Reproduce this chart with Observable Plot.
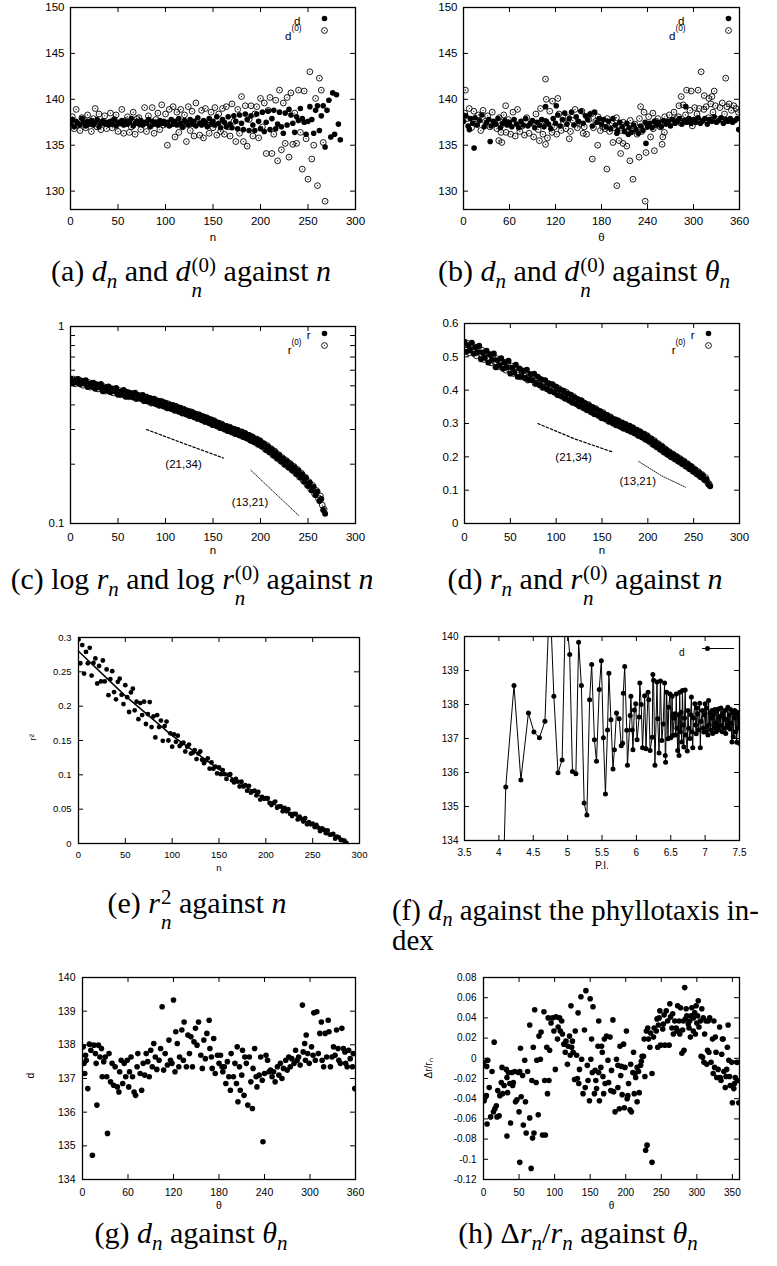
<!DOCTYPE html>
<html><head><meta charset="utf-8">
<script src="https://cdn.jsdelivr.net/npm/d3@7"></script>
<script src="https://cdn.jsdelivr.net/npm/@observablehq/plot@0.6"></script>
<style>
html,body{margin:0;padding:0;background:#fff;}
#fig{position:relative;width:777px;height:1266px;overflow:hidden;background:#fff;}
.pnl{position:absolute;}
.cap{position:absolute;font-family:"Liberation Serif","Times New Roman",serif;font-size:25px;color:#000;white-space:nowrap;line-height:1.2;}
.cap i{font-style:italic;}
.ss{display:inline-flex;flex-direction:column;font-size:0.7em;line-height:1.2;vertical-align:0.42em;margin-left:1px;}
.ss span{display:block;line-height:1.2;}
.sb{font-size:0.7em;position:relative;top:0.32em;line-height:1;}
.keyline{position:absolute;height:0;border-top:1px solid #000;}
</style></head><body><div id="fig"></div>
<script>
// ================= DATA =================
// (a) d_n (filled) and d_n^(0) (open) against n ; n = index*2
const aStep = 2;
const aD = [137.3,137.8,137.0,137.6,137.4,137.2,137.9,137.5,137.1,137.6,137.3,137.7,137.2,137.5,137.8,137.0,137.4,137.6,137.3,137.5,137.2,
137.6,137.3,137.8,137.1,137.5,137.4,137.7,137.2,137.6,137.3,137.5,137.9,137.1,137.4,137.6,137.3,137.7,137.2,137.5,137.4,137.8,137.0,137.6,137.3,137.5,137.2,137.7,137.4,137.6,137.3,
137.5,137.1,137.8,137.3,137.6,137.2,137.9,137.4,137.0,137.7,137.5,137.2,137.8,137.3,137.6,137.1,138.0,137.4,137.2,137.7,137.5,137.0,137.9,137.3,137.6,137.2,138.1,137.4,136.9,137.8,
137.5,137.0,138.1,137.3,136.9,138.2,137.6,136.8,138.3,137.4,136.7,138.4,137.8,136.6,138.2,137.2,136.6,138.4,137.6,136.8,
138.6,136.5,137.5,138.7,136.7,137.9,138.8,136.8,137.3,138.6,137.0,136.3,138.5,137.2,138.9,138.3,137.4,136.4,138.1,137.7,139.0,137.9,137.5,136.2,137.6,139.2,137.8,136.3,138.8,139.3,
136.6,138.2,139.3,134.8,138.8,139.9,135.9,140.7,136.2,140.5,137.3,135.6];
const aD0 = [137.4,138.1,136.8,138.9,137.2,136.6,138.0,137.7,136.9,138.3,137.5,136.5,137.9,139.0,137.0,138.4,136.7,137.6,138.2,136.8,137.3,
138.5,136.9,137.8,138.3,136.5,137.4,138.9,136.3,137.7,138.1,136.4,137.0,138.6,136.2,137.9,138.0,136.7,137.3,139.1,136.5,138.2,137.1,139.1,136.3,137.8,138.5,136.7,139.4,137.2,138.4,
135.0,138.9,137.3,139.2,135.9,138.6,136.4,138.9,137.0,138.3,135.4,139.2,136.6,138.7,136.0,139.6,137.5,136.1,138.8,135.8,139.0,137.2,136.3,138.6,136.9,139.1,136.1,138.4,136.5,139.0,
136.2,139.2,137.0,136.0,139.5,137.6,135.4,138.9,136.3,140.3,135.4,139.3,134.9,137.8,139.3,136.0,138.4,139.2,135.8,140.1,
137.0,139.6,134.1,138.8,140.2,134.1,136.2,139.9,133.3,141.0,134.5,139.6,135.2,140.2,133.7,140.7,135.1,138.5,135.2,141.0,136.4,132.4,140.9,135.7,131.3,143.0,133.5,135.0,140.1,130.6,142.3,141.0,135.3,128.9];

// (b) d_n and d_n^(0) against theta_n ; band sampled every 3 degrees
const bStep = 3;
const bD = [137.6,138.2,137.1,137.9,137.4,138.0,137.2,137.7,138.3,137.0,137.5,137.8,137.1,137.6,137.3,137.9,136.9,137.4,137.7,137.2,
137.5,137.0,137.8,137.3,136.9,137.6,137.2,137.9,137.1,137.4,137.7,136.9,137.5,137.2,137.8,137.0,137.6,137.3,136.8,137.9,
137.4,138.3,137.1,137.8,138.5,137.3,137.9,138.6,137.2,138.1,137.6,138.7,137.4,138.2,137.8,138.4,137.1,138.6,137.5,137.9,
137.3,137.8,137.0,137.6,136.8,137.9,137.2,136.6,137.5,137.0,136.5,137.4,136.9,136.4,137.2,136.7,136.3,137.1,136.6,137.5,
137.0,137.4,136.9,137.6,137.2,137.5,137.0,137.7,137.3,137.6,137.1,137.8,137.4,137.6,137.9,137.3,137.7,137.5,137.9,137.4,
137.8,137.5,138.0,137.4,137.7,137.9,137.3,137.8,137.6,138.1,137.5,137.7,138.0,137.4,137.8,137.6,137.9,137.5,137.7,137.9];
const bD0 = [138.5,137.9,139.0,136.9,138.7,137.3,138.3,136.6,138.8,137.6,138.2,137.0,138.6,137.4,136.8,138.0,137.2,138.3,136.4,137.8,
136.2,138.6,136.0,138.9,136.5,137.1,136.1,138.0,136.3,137.4,135.9,138.4,136.7,139.0,136.2,137.6,135.8,138.7,136.4,137.0,
136.2,138.4,136.6,137.5,136.8,138.0,136.5,137.7,138.9,136.9,137.3,138.7,137.0,136.2,137.8,138.4,136.9,137.6,138.1,136.6,
137.0,136.8,137.9,136.5,137.4,136.9,138.0,137.2,136.6,137.5,137.1,136.4,137.7,136.8,137.3,136.2,137.9,136.5,138.6,137.0,
138.1,137.2,136.8,137.6,137.9,137.0,137.4,138.1,137.5,138.3,137.7,138.6,137.9,138.1,137.4,139.4,138.3,137.6,138.8,137.1,
139.1,138.4,139.0,137.6,138.9,139.2,138.0,139.5,138.6,139.3,137.8,139.1,139.6,138.4,139.2,139.5,138.8,139.3,139.0,138.6];
const bDExtra = [[7.6,136.7],[13.8,134.7],[34.8,135.4],[107,139.2],[121,139.3],[238,135.2],[359,136.7],[290,139.2],[200,136.3],[215,136.2]];
const bD0Extra = [[2.5,141.0],[107,142.2],[108,140.0],[116,139.8],[123,140.1],[55,139.3],[310,143.0],[342,142.3],[291,141.0],[297,140.9],[306,141.0],
[314,140.4],[320,140.1],[324,140.3],[327,140.9],[284,140.3],[281,139.3],[231,139.2],[247,138.5],[168,133.5],[175,135.0],[187,132.4],[195,135.3],
[200,130.6],[203,135.5],[205,134.1],[208,135.2],[213,134.9],[217,133.3],[221,131.3],[229,133.7],[237,128.9],[238,134.2],[244,135.9],[249,134.4],
[259,135.1],[260,135.9],[262,136.4],[46,135.5],[50,135.3],[99,135.5],[107,135.1],[138,135.7],[156,136.3],[49,136.4]];

// (c),(d) r_n (filled, n even) and r_n^(0) (open, n odd)
const rStep = 2;
const rN = [.545,.515,.534,.52,.542,.509,.529,.514,.533,.493,.512,.497,.518,.483,.506,.491,.51,.469,.49,.473,.496,
.464,.483,.469,.488,.45,.467,.453,.476,.44,.465,.441,.458,.436,.461,.431,.448,.43,.449,.419,.44,
.415,.432,.409,.43,.403,.42,.397,.418,.393,.41,.385,.402,.381,.398,.374,.39,.369,.386,.362,.378,
.358,.372,.351,.368,.346,.36,.34,.355,.334,.349,.328,.343,.323,.337,.316,.33,.312,.325,.305,.318,
.30,.313,.295,.308,.29,.303,.285,.298,.28,.293,.275,.287,.27,.281,.263,.275,.258,.269,.251,.262,
.245,.254,.236,.246,.229,.238,.221,.23,.213,.222,.206,.214,.199,.207,.192,.2,.185,.193,.178,.186,
.171,.178,.163,.17,.155,.161,.147,.153,.139,.145,.13,.133,.117,.112];
const r0N = [.528,.541,.512,.537,.518,.53,.503,.524,.51,.52,.492,.514,.496,.508,.482,.501,.485,.495,.47,.49,
.473,.484,.46,.479,.462,.473,.45,.469,.452,.462,.44,.458,.442,.452,.43,.447,.432,.443,.42,.438,
.421,.432,.408,.427,.41,.42,.398,.416,.399,.41,.388,.405,.388,.398,.377,.394,.376,.386,.365,.381,
.363,.373,.353,.369,.352,.361,.342,.357,.34,.349,.33,.345,.328,.337,.318,.333,.316,.324,.307,.32,
.305,.311,.296,.309,.293,.3,.286,.298,.283,.29,.277,.288,.272,.279,.265,.276,.26,.267,.253,.264,
.247,.255,.238,.249,.231,.24,.223,.233,.215,.224,.208,.216,.2,.209,.194,.202,.187,.195,.18,.188,
.172,.18,.165,.172,.157,.163,.149,.156,.141,.147,.134,.138,.124,.118];
const slope2134 = [[80,0.30],[120,0.254],[161,0.215]];
const slope1321 = [[190,0.186],[215,0.143],[241,0.109]];
const slopeLabels = [[119,0.2,"(21,34)"],[189,0.128,"(13,21)"]];

// (e) r_n^2 against n ; n = index*2
const eStep = 2;
const eR2 = [.297,.2625,.289,.2475,.279,.2625,.285,.2445,.263,.2695,.233,.2585,.236,.2665,.236,.2535,.216,.2395,.251,.2205,
.21,.2355,.24,.2165,.203,.2305,.213,.1915,.22,.2255,.194,.2065,.181,.2045,.187,.2065,.174,.1885,.206,.1695,
.185,.1545,.187,.1695,.179,.1495,.171,.1775,.15,.1605,.141,
.159,.148,.157,.142,.145,.147,.134,.141,.144,.131,.132,.136,.123,.131,.134,.122,.117,.121,.124,.109,.118,.109,.112,.102,.111,
.101,.107,.101,.094,.1,.101,.092,.089,.094,.09,.083,.09,.083,.085,.077,.084,.074,.076,.077,.07,.075,.064,.068,.065,.066,
.066,.059,.056,.059,.061,.052,.054,.054,.047,.052,.047,.05,.043,.04,.043,.043,.035,.039,.036,.032,.037,.028,.031,.028,.029,
.024,.027,.023,.018,.022,.02,.015,.019,.013,.013,.014,.007,.01,.009,.005,.005,.004,.001];
const eFit = [[0,0.28],[50,0.215],[100,0.157],[150,0.108],[200,0.064],[250,0.027],[288,0]];

// (f) d_n against phyllotaxis index (P.I., d)
const fData = [[4.00,128.0],[4.10,135.57],[4.22,138.56],[4.32,135.78],[4.43,137.75],[4.51,137.19],[4.59,137.02],[4.67,137.51],[4.74,141.3],[4.80,138.24],
[4.86,135.99],[4.92,136.37],[4.97,141.0],[5.03,139.47],[5.07,136.03],[5.12,135.96],[5.16,139.83],[5.20,138.56],[5.24,135.10],[5.28,134.75],
[5.32,138.14],[5.35,139.18],[5.39,136.96],[5.42,136.33],[5.46,138.44],[5.49,139.29],[5.52,137.02],[5.55,135.37],[5.58,137.25],[5.60,138.92],
[5.63,137.55],[5.66,136.10],[5.68,136.67],[5.71,137.75],[5.75,137.58],[5.78,136.79],[5.80,136.86],[5.81,138.33],[5.83,139.12],[5.86,137.24],
[5.87,136.21],[5.91,137.68],[5.92,138.24],[5.94,137.25],[5.95,136.67],[5.97,137.84],[5.99,138.02],[6.01,136.96],[6.04,137.63],[6.05,138.63],
[6.07,138.0],[6.09,136.73],[6.12,138.26],[6.14,136.70],[6.17,138.36],[6.18,138.14],[6.20,136.65],[6.23,137.04],[6.24,138.88],[6.25,138.71],
[6.27,136.21],[6.30,138.66],[6.31,137.58],[6.33,136.57],[6.35,138.69],[6.37,136.94],[6.39,137.43],[6.41,138.63],[6.42,136.5],[6.425,136.3],
[6.44,138.36],[6.46,136.99],[6.47,137.92],[6.49,138.31],[6.50,137.02],[6.52,138.24],[6.53,137.09],[6.55,137.6],[6.56,137.73],[6.57,137.1],
[6.58,138.31],[6.59,137.3],[6.60,136.65],[6.61,137.7],[6.62,136.5],[6.63,138.36],[6.64,137.2],[6.65,137.77],[6.66,136.9],[6.67,138.41],
[6.68,137.4],[6.69,136.75],[6.70,137.6],[6.71,138.43],[6.72,137.1],[6.74,136.63],[6.75,137.82],[6.76,137.3],[6.78,137.0],[6.79,137.7],
[6.80,138.22],[6.81,137.2],[6.82,136.73],[6.83,137.6],[6.85,138.02],[6.86,137.4],[6.87,137.14],[6.88,137.9],[6.89,137.73],[6.90,137.25],
[6.92,138.04],[6.93,136.73],[6.94,137.5],[6.96,137.82],[6.97,137.3],[6.98,137.19],[6.99,137.7],[7.00,138.02],[7.01,137.2],[7.02,137.9],
[7.03,137.35],[7.04,137.1],[7.05,138.12],[7.06,137.4],[7.07,137.75],[7.08,137.24],[7.09,137.6],[7.10,137.82],[7.11,137.15],[7.12,137.7],
[7.13,137.3],[7.14,137.85],[7.15,137.45],[7.16,137.2],[7.17,137.8],[7.18,137.35],[7.19,137.87],[7.20,137.25],[7.21,137.65],[7.22,137.38],
[7.23,137.9],[7.24,137.68],[7.25,137.2],[7.26,137.75],[7.27,137.3],[7.28,137.6],[7.29,137.82],[7.30,137.15],[7.31,137.55],[7.32,137.33],
[7.33,137.92],[7.34,137.4],[7.35,137.7],[7.36,137.28],[7.37,137.85],[7.38,137.45],[7.39,136.9],[7.40,137.75],[7.41,137.05],[7.42,137.6],
[7.43,137.82],[7.44,137.19],[7.45,137.7],[7.46,136.89],[7.47,137.77],[7.48,137.3],[7.49,137.6],[7.50,136.85],[7.51,137.7]];

// (g) d_n against theta_n
const gData = [[1,137.94],[2,137.45],[3,137.15],[4,137.69],[5,137.54],[7,136.70],[9,138.02],[11,137.84],[13,134.72],[15,137.99],[17,137.74],[18,137.45],
[19,136.21],[21,137.99],[23,137.64],[25,137.89],[26,137.05],[28,137.50],[30,137.64],[32,137.05],[33,135.37],[35,137.74],[37,136.90],[39,137.45],
[41,136.80],[43,137.35],[46,136.75],[48,136.60],[49,137.20],[51,137.54],[53,136.85],[55,137.45],[57,137.05],[59,137.54],[61,136.75],[62,137.20],
[64,137.64],[66,137.05],[68,136.60],[70,136.50],[72,137.35],[73,137.74],[76,137.15],[78,136.65],[80,137.45],[82,137.10],[84,137.74],[86,137.50],
[88,137.05],[90,137.84],[92,137.35],[94,138.04],[96,137.64],[98,137.27],[101,137.54],[103,137.89],[105,139.13],[107,137.25],[109,137.74],[112,137.40],
[114,138.14],[116,137.54],[118,137.45],[120,139.33],[122,137.20],[123,138.39],[125,138.04],[127,137.35],[128,137.64],[131,138.44],[133,137.54],[134,138.68],
[137,137.35],[139,138.29],[141,137.74],[143,138.24],[145,137.35],[147,138.09],[149,138.49],[151,137.99],[153,138.68],[156,137.69],[158,137.30],[160,138.14],
[162,137.59],[164,138.34],[167,138.73],[168,137.89],[170,137.64],[171,137.30],[173,138.19],[175,137.15],[178,137.69],[180,137.45],[182,137.69],[184,137.35],
[185,137.20],[187,137.35],[189,136.85],[191,137.50],[193,137.05],[195,136.65],[196,137.74],[199,137.05],[201,137.45],[203,136.85],[204,137.94],[205,136.31],
[207,137.35],[208,136.65],[210,137.10],[211,137.84],[213,136.50],[214,137.64],[216,137.45],[218,136.21],[220,137.64],[222,136.90],[224,136.11],[225,137.30],
[227,137.89],[229,137.05],[230,136.75],[233,137.10],[235,137.64],[237,136.95],[238,135.12],[240,137.15],[242,137.69],[244,137.54],[246,137.20],[248,137.25],
[250,137.05],[252,137.20],[254,136.90],[257,137.35],[259,137.10],[261,137.45],[263,137.00],[265,137.30],[268,137.54],[270,137.25],[272,137.64],[274,137.35],
[276,137.59],[279,137.45],[281,137.84],[283,137.54],[285,137.64],[287,137.40],[290,139.18],[291,137.79],[293,138.04],[294,137.54],[295,138.29],[297,137.74],
[299,137.45],[302,137.94],[304,137.69],[305,138.95],[307,137.54],[309,138.98],[311,137.74],[313,138.34],[315,138.68],[316,137.54],[318,137.35],[320,138.34],
[322,137.64],[324,138.73],[325,138.39],[327,137.35],[329,137.64],[331,137.94],[333,137.69],[335,138.44],[337,137.89],[338,137.54],[340,137.45],[342,138.49],
[344,137.89],[346,137.79],[347,137.45],[349,137.35],[351,137.84],[353,137.59],[356,137.35],[357,137.74],[359,136.70]];

// (h) delta r_n / r_n against theta_n
const hData = [[0,-0.004],[1,-0.042],[4,-0.037],[4.5,-0.008],[6,-0.002],[5,-0.065],[8,-0.029],[10,-0.058],[12,-0.013],[14,-0.053],[15,0.016],[16,-0.05],
[18,-0.047],[19,-0.058],[20,-0.032],[22,-0.057],[23,-0.037],[25,-0.024],[26,-0.009],[27,-0.035],[29,-0.027],[32,-0.011],[33,-0.019],[33,-0.077],
[34,-0.034],[35,-0.014],[37,-0.025],[38,-0.064],[40,-0.014],[41,-0.027],[42,-0.024],[44,-0.013],[45,-0.043],[47,-0.041],[49,-0.014],[50,-0.053],
[51,-0.013],[52,0.01],[53,-0.038],[51,-0.103],[55,-0.017],[56,-0.066],[58,-0.002],[59,-0.043],[60,-0.074],[62,-0.013],[65,0.033],[65,-0.059],
[67,-0.109],[68,-0.022],[69,-0.079],[70,0.011],[71,-0.074],[72,0.048],[74,-0.024],[75,-0.002],[77,-0.056],[78,0.022],[80,-0.001],[81,0.026],
[83,-0.076],[85,0.046],[86,-0.022],[87,-0.076],[89,0.011],[90,-0.035],[91,0.04],[92,-0.022],[93,0.008],[95,0.035],[97,0.04],[99,0.027],
[101,-0.011],[102,0.041],[104,0.019],[105,0.031],[107,0.04],[108,0.027],[110,0.037],[111,0.024],[113,0.014],[115,0.006],[116,0.017],[118,-0.006],
[119,0.012],[121,0.022],[122,0.003],[123,0.052],[124,0.011],[125,0.017],[126,0.006],[128,-0.021],[129,0.027],[131,0.003],[132,-0.02],[133,0.045],
[134,-0.025],[135,-0.011],[137,0.061],[138,-0.001],[140,-0.035],[142,0.028],[143,-0.029],[144,0.067],[146,-0.007],[147,-0.022],[149,-0.042],[150,0.059],
[151,-0.001],[152,0.019],[153,-0.014],[154,0.051],[156,-0.035],[157,-0.012],[158,-0.022],[159,-0.03],[161,0.012],[162,-0.014],[162,0.037],[163,-0.042],
[165,-0.009],[166,0.012],[167,0.006],[168,-0.018],[169,-0.035],[170,0.019],[171,-0.025],[173,0.022],[175,-0.002],[176,-0.024],[178,0.021],[179,-0.032],
[180,-0.012],[182,0.038],[183,-0.033],[185,-0.053],[187,-0.001],[189,-0.029],[189,-0.007],[191,-0.05],[192,0.012],[193,-0.017],[194,-0.008],[195,-0.036],
[197,0.014],[198,-0.049],[199,-0.009],[201,0.027],[202,-0.04],[203,-0.037],[204,-0.025],[206,-0.051],[207,-0.006],[208,-0.053],[210,-0.014],[211,0.006],
[212,-0.035],[213,-0.015],[214,-0.019],[216,-0.043],[216,-0.009],[218,-0.013],[219,-0.034],[221,-0.007],[222,-0.003],[223,0.002],[225,0.002],[226,0.019],
[227,-0.018],[228,-0.091],[230,-0.086],[229,0.027],[231,0.03],[232,0.019],[234,0.011],[235,0.025],[237,-0.015],[237,-0.103],[239,0.021],[240,0.03],
[243,0.027],[244,0.039],[245,0.011],[246,0.033],[247,0.04],[248,0.047],[249,0.013],[252,0.029],[253,0.034],[254,0.043],[255,0.013],[257,0.047],
[259,0.037],[261,0.013],[262,0.054],[263,0.041],[265,0.03],[266,0.044],[267,0.024],[269,0.037],[271,0.03],[272,0.027],[273,0.052],[274,0.027],
[275,0.037],[276,0.024],[277,0.05],[279,0.005],[280,0.028],[281,0.037],[282,0.008],[283,0.07],[284,0.039],[285,0.049],[286,0.042],[288,0.034],
[289,0.03],[290,0.037],[291,0.021],[292,0.042],[293,0.05],[295,0.027],[295,0.04],[297,0.045],[298,0.024],[299,0.052],[300,0.035],[301,0.042],
[302,0.057],[303,0.031],[305,0.037],[306,0.002],[307,0.049],[308,0.001],[309,0.04],[310,-0.004],[311,0.024],[313,0.037],[314,-0.006],[315,0.008],
[316,0.037],[317,0.006],[318,0.04],[320,-0.004],[322,0.019],[323,-0.015],[324,0.037],[325,-0.009],[326,0.021],[327,0.006],[328,-0.019],[330,-0.011],
[332,0.031],[333,-0.019],[334,-0.022],[335,0.004],[336,0.019],[337,0.019],[338,-0.013],[340,-0.029],[341,-0.018],[342,-0.011],[343,0.011],[344,0.033],
[345,-0.002],[346,-0.018],[347,-0.027],[349,-0.004],[350,-0.044],[352,-0.03],[353,-0.025],[354,-0.019],[356,-0.004],[357,-0.022],[359,-0.044],[360,-0.004]];

// tick values
const ticksN300 = [0,50,100,150,200,250,300];
const ticksTheta60 = [0,60,120,180,240,300,360];
const ticksTheta50 = [0,50,100,150,200,250,300,350];
const ticksD150 = [130,135,140,145,150];
const ticksLog = [0.1,1];
const ticksLogMinor = [0.1,0.2,0.3,0.4,0.5,0.6,0.7,0.8,0.9,1];
const ticksR = [0,0.1,0.2,0.3,0.4,0.5,0.6];
const ticksR2 = [0,0.05,0.1,0.15,0.2,0.25,0.3];
const ticksPI = [3.5,4,4.5,5,5.5,6,6.5,7,7.5];
const ticksD140 = [134,135,136,137,138,139,140];
const ticksDr = [-0.12,-0.1,-0.08,-0.06,-0.04,-0.02,0,0.02,0.04,0.06,0.08];

// ================= BUILD =================
const fig = document.getElementById("fig");
const fmt = d => String(+d.toFixed(2));
const SANS = "'Liberation Sans', Arial, Helvetica, sans-serif";

function panel(o) {
  const iw = o.width - o.mL - o.mR, ih = o.height - o.mT - o.mB;
  const tl = 5;
  const yAll = o.yTicksAll || o.yTicks;
  const marks = [
    ...o.marks,
    Plot.frame({stroke: "black", strokeWidth: 1.3}),
    Plot.ruleX(o.xTicks, {x: d => d, insetTop: ih - tl, stroke: "black"}),
    Plot.ruleX(o.xTicks, {x: d => d, insetBottom: ih - tl, stroke: "black"}),
    Plot.ruleY(yAll, {y: d => d, insetRight: iw - tl, stroke: "black"}),
    Plot.ruleY(yAll, {y: d => d, insetLeft: iw - tl, stroke: "black"}),
    Plot.axisX(o.xTicks, {tickSize: 0, tickPadding: o.xPad, tickFormat: fmt, label: null}),
    Plot.axisY(o.yTicks, {tickSize: 0, tickPadding: o.yPad, tickFormat: fmt, label: null}),
    Plot.text([o.xLabel], {text: d => d, frameAnchor: "bottom", dy: o.xLabDy}),
  ];
  if (o.yLabel) marks.push(Plot.text([o.yLabel], {text: d => d, frameAnchor: "left", dx: o.yLabDx, rotate: -90}));
  if (o.extra) marks.push(...o.extra);
  const svg = Plot.plot({
    width: o.width, height: o.height,
    marginLeft: o.mL, marginRight: o.mR, marginTop: o.mT, marginBottom: o.mB,
    x: {domain: o.xDomain},
    y: {domain: o.yDomain, type: o.yType || "linear"},
    style: {fontFamily: SANS, fontSize: o.fs + "px", color: "black", background: "transparent", overflow: "visible"},
    marks
  });
  svg.classList.add("pnl");
  svg.style.left = o.left + "px";
  svg.style.top = o.top + "px";
  fig.appendChild(svg);
}

const filled = (data, x, y, r = 2.8) => Plot.dot(data, {x, y, r, fill: "black", stroke: "none", clip: true});
const openDots = (data, x, y) => [
  Plot.dot(data, {x, y, r: 2.9, fill: "none", stroke: "black", strokeWidth: 0.9, clip: true}),
  Plot.dot(data, {x, y, r: 0.6, fill: "black", stroke: "none", clip: true})
];
function keyMarks(sym, dotDx, dotDy1, dotDy2, txDy1, fs) {
  return [
    Plot.text([sym], {text: d => d, frameAnchor: "top-right", textAnchor: "end", dx: sym === "d" ? -55 : -45, dy: txDy1, fontSize: fs}),
    Plot.text([sym], {text: d => d, frameAnchor: "top-right", textAnchor: "end", dx: -64, dy: txDy1 + 15, fontSize: fs}),
    Plot.text(["(0)"], {text: d => d, frameAnchor: "top-right", textAnchor: "end", dx: -54, dy: txDy1 + 9, fontSize: fs * 0.72}),
    Plot.dot([0], {frameAnchor: "top-right", dx: dotDx, dy: dotDy1, r: 2.8, fill: "black"}),
    Plot.dot([0], {frameAnchor: "top-right", dx: dotDx, dy: dotDy2, r: 2.9, fill: "none", stroke: "black", strokeWidth: 0.9}),
    Plot.dot([0], {frameAnchor: "top-right", dx: dotDx, dy: dotDy2, r: 0.6, fill: "black"})
  ];
}

// tables
const aRows = aD.map((v, i) => ({n: i * aStep, v}));
const aRows0 = aD0.map((v, i) => ({n: i * aStep, v}));
const bRows = bD.map((v, i) => ({t: i * bStep, v})).concat(bDExtra.map(([t, v]) => ({t, v})));
const bRows0 = bD0.map((v, i) => ({t: 1.5 + i * bStep, v})).concat(bD0Extra.map(([t, v]) => ({t, v})));
const rRows = rN.map((v, i) => ({n: i * rStep, v}));
const rRows0 = r0N.map((v, i) => ({n: 1 + i * rStep, v}));
const eRows = eR2.map((v, i) => ({n: i * eStep, v}));

// (a)
panel({left: 0, top: 0, width: 390, height: 250, mL: 70, mR: 35, mT: 7, mB: 41, fs: 11.5,
  xDomain: [0, 300], yDomain: [128, 150], xTicks: ticksN300, yTicks: ticksD150, xPad: 7, yPad: 6,
  xLabel: "n", xLabDy: 31,
  marks: [filled(aRows, "n", "v"), ...openDots(aRows0, "n", "v")],
  extra: keyMarks("d", -31, 11, 23, 9, 11.5)});
// (b)
panel({left: 390, top: 0, width: 387, height: 250, mL: 73, mR: 38, mT: 7, mB: 41, fs: 11.5,
  xDomain: [0, 360], yDomain: [128, 150], xTicks: ticksTheta60, yTicks: ticksD150, xPad: 7, yPad: 6,
  xLabel: "θ", xLabDy: 31,
  marks: [filled(bRows, "t", "v"), ...openDots(bRows0, "t", "v")],
  extra: keyMarks("d", -11, 11, 23, 9, 11.5)});
// (c)
const slopeMarks = [
  Plot.line(slope2134, {x: d => d[0], y: d => d[1], stroke: "black", strokeWidth: 1.2, strokeDasharray: "2.5,2"}),
  Plot.line(slope1321, {x: d => d[0], y: d => d[1], stroke: "black", strokeWidth: 0.9, strokeDasharray: "1,1.3"}),
  Plot.text(slopeLabels, {x: d => d[0], y: d => d[1], text: d => d[2]})
];
panel({left: 0, top: 319, width: 390, height: 250, mL: 70, mR: 35, mT: 7, mB: 46, fs: 11.5,
  xDomain: [0, 300], yDomain: [0.1, 1], yType: "log", xTicks: ticksN300, yTicks: ticksLog, yTicksAll: ticksLogMinor, xPad: 9, yPad: 6,
  xLabel: "n", xLabDy: 30,
  marks: [...slopeMarks, filled(rRows, "n", "v", 3), ...openDots(rRows0, "n", "v")],
  extra: keyMarks("r", -31, 7, 19, 4, 11.5)});
// (d)
panel({left: 390, top: 316, width: 387, height: 254, mL: 74, mR: 38, mT: 7, mB: 47, fs: 11.5,
  xDomain: [0, 300], yDomain: [0, 0.6], xTicks: ticksN300, yTicks: ticksR, xPad: 9, yPad: 6,
  xLabel: "n", xLabDy: 30,
  marks: [...slopeMarks, filled(rRows, "n", "v", 3), ...openDots(rRows0, "n", "v")],
  extra: keyMarks("r", -31, 10, 22, 7, 11.5)});
// (e)
panel({left: 0, top: 630, width: 390, height: 250, mL: 78, mR: 31, mT: 7, mB: 37, fs: 9.5,
  xDomain: [0, 300], yDomain: [0, 0.3], xTicks: ticksN300, yTicks: ticksR2, xPad: 8, yPad: 7,
  xLabel: "n", xLabDy: 27, yLabel: "r²", yLabDx: -46,
  marks: [filled(eRows, "n", "v", 2.4), Plot.line(eFit, {x: d => d[0], y: d => d[1], stroke: "black", strokeWidth: 1.5})]});
// (f)
panel({left: 390, top: 629, width: 387, height: 250, mL: 74, mR: 38, mT: 7, mB: 39, fs: 10,
  xDomain: [3.5, 7.5], yDomain: [134, 140], xTicks: ticksPI, yTicks: ticksD140, xPad: 8, yPad: 6,
  xLabel: "P.I.", xLabDy: 28,
  marks: [Plot.line(fData, {x: d => d[0], y: d => d[1], stroke: "black", strokeWidth: 1, clip: true}),
          Plot.dot(fData, {x: d => d[0], y: d => d[1], r: 2.5, fill: "black", clip: true})],
  extra: [Plot.text(["d"], {text: d => d, frameAnchor: "top-right", textAnchor: "end", dx: -55, dy: 12}),
          Plot.dot([0], {frameAnchor: "top-right", dx: -32, dy: 12, r: 2.5, fill: "black"})]});
// (g)
panel({left: 0, top: 970, width: 390, height: 250, mL: 82, mR: 35, mT: 7, mB: 41, fs: 10.5,
  xDomain: [0, 360], yDomain: [134, 140], xTicks: ticksTheta60, yTicks: ticksD140, xPad: 9, yPad: 7,
  xLabel: "θ", xLabDy: 29, yLabel: "d", yLabDx: -52,
  marks: [filled(gData.map(([t, v]) => ({t, v})), "t", "v", 2.8)]});
// (h)
panel({left: 390, top: 970, width: 387, height: 250, mL: 93, mR: 38, mT: 7, mB: 41, fs: 10,
  xDomain: [0, 360], yDomain: [-0.12, 0.08], xTicks: ticksTheta50, yTicks: ticksDr, xPad: 9, yPad: 7,
  xLabel: "θ", xLabDy: 29, yLabel: "Δr/rₙ", yLabDx: -55,
  marks: [filled(hData.map(([t, v]) => ({t, v})), "t", "v", 2.8)]});

// key line for (f)
const kl = document.createElement("div");
kl.className = "keyline";
kl.style.left = "702px"; kl.style.top = "648px"; kl.style.width = "32px";
fig.appendChild(kl);

// ================= CAPTIONS =================
const ss = (sup, sub) => `<span class="ss"><span>${sup}</span><span>${sub}</span></span>`;
const sb = s => `<span class="sb">${s}</span>`;
const captions = [
  {cx: 191, cy: 278, w: 292, html: `(a) <i>d</i>${sb("<i>n</i>")} and <i>d</i>${ss("(0)", "<i>n</i>")} against <i>n</i>`},
  {cx: 584, cy: 278, w: 302, html: `(b) <i>d</i>${sb("<i>n</i>")} and <i>d</i>${ss("(0)", "<i>n</i>")} against <i>θ</i>${sb("<i>n</i>")}`},
  {cx: 192, cy: 586, w: 363, html: `(c) log <i>r</i>${sb("<i>n</i>")} and log <i>r</i>${ss("(0)", "<i>n</i>")} against <i>n</i>`},
  {cx: 585, cy: 586, w: 290, html: `(d) <i>r</i>${sb("<i>n</i>")} and <i>r</i>${ss("(0)", "<i>n</i>")} against <i>n</i>`},
  {cx: 197, cy: 910, w: 193, html: `(e) <i>r</i>${ss("2", "<i>n</i>")} against <i>n</i>`},
  {left: 392, cy: 910, w: 367, html: `(f) <i>d</i>${sb("<i>n</i>")} against the phyllotaxis in-`},
  {left: 392, cy: 940, w: null, html: `dex`},
  {cx: 191, cy: 1233, w: 198, html: `(g) <i>d</i>${sb("<i>n</i>")} against <i>θ</i>${sb("<i>n</i>")}`},
  {cx: 578, cy: 1233, w: 275, html: `(h) Δ<i>r</i>${sb("<i>n</i>")}/<i>r</i>${sb("<i>n</i>")} against <i>θ</i>${sb("<i>n</i>")}`}
];
let fLineSize = 25;
for (const c of captions) {
  const el = document.createElement("div");
  el.className = "cap";
  el.innerHTML = c.html;
  fig.appendChild(el);
  if (c.w) {
    const w0 = el.getBoundingClientRect().width;
    const fs = Math.max(20, Math.min(30, 25 * c.w / w0));
    el.style.fontSize = fs + "px";
    if (c.left !== undefined) fLineSize = fs;
  } else {
    el.style.fontSize = fLineSize + "px";
  }
  if (c.left !== undefined) {
    el.style.left = c.left + "px";
    el.style.top = c.cy + "px";
    el.style.transform = "translateY(-50%)";
  } else {
    el.style.left = c.cx + "px";
    el.style.top = c.cy + "px";
    el.style.transform = "translate(-50%,-50%)";
  }
}
</script></body></html>
